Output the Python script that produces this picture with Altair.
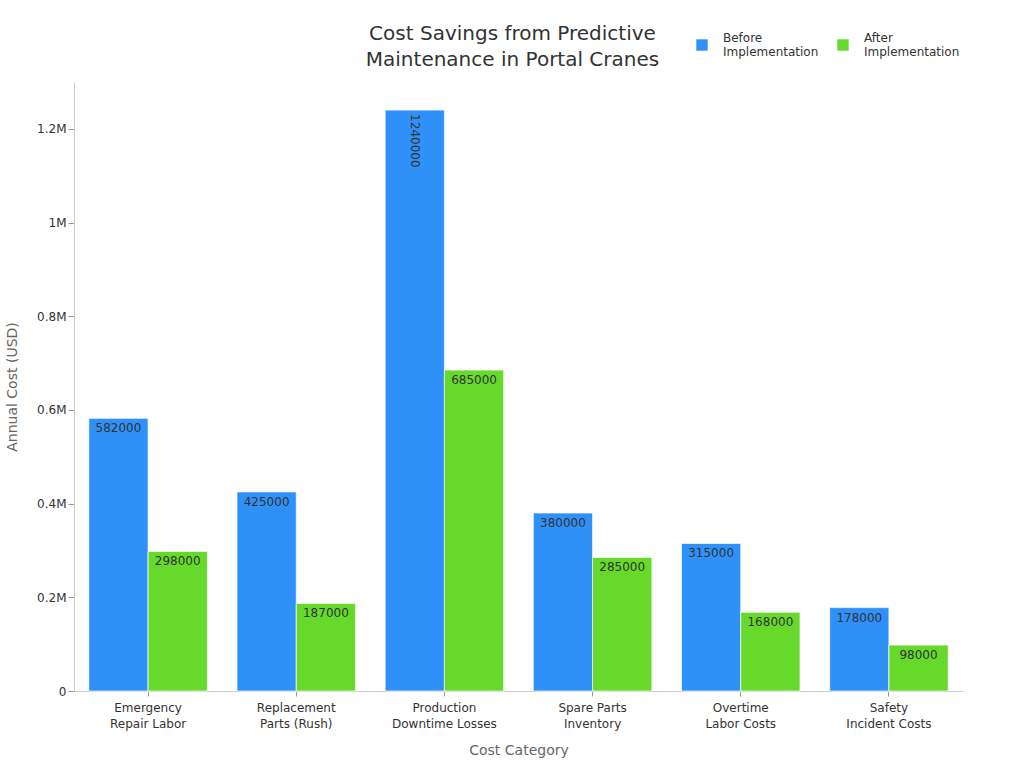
import altair as alt
import pandas as pd

# Cost categories (line breaks mark where the axis labels wrap)
categories = [
    "Emergency\nRepair Labor",
    "Replacement\nParts (Rush)",
    "Production\nDowntime Losses",
    "Spare Parts\nInventory",
    "Overtime\nLabor Costs",
    "Safety\nIncident Costs",
]
series = ["Before Implementation", "After Implementation"]
before_costs = [582000, 425000, 1240000, 380000, 315000, 178000]
after_costs = [298000, 187000, 685000, 285000, 168000, 98000]

rows = []
for cat, b, a in zip(categories, before_costs, after_costs):
    rows.append({"category": cat, "period": series[0], "cost": b})
    rows.append({"category": cat, "period": series[1], "cost": a})
df = pd.DataFrame(rows)

FONT = "DejaVu Sans"
colors = ["#2F91F8", "#66D92A"]

x_enc = alt.X(
    "category:N",
    sort=categories,
    scale=alt.Scale(paddingInner=0.2, paddingOuter=0.1),
    axis=alt.Axis(
        title="Cost Category",
        labelAngle=0,
        labelExpr="split(datum.label, '\\n')",
        labelFontSize=12,
        labelColor="#333333",
        labelLineHeight=16,
        labelPadding=6,
        titleFontSize=14,
        titleFontWeight="normal",
        titleColor="#666666",
        titlePadding=14,
        domainColor="#cccccc",
        tickColor="#999999",
        tickSize=5,
    ),
)
y_enc = alt.Y(
    "cost:Q",
    scale=alt.Scale(domain=[0, 1300000], nice=False),
    axis=alt.Axis(
        title="Annual Cost (USD)",
        values=[0, 200000, 400000, 600000, 800000, 1000000, 1200000],
        labelExpr="datum.value == 0 ? '0' : format(datum.value / 1000000, '~g') + 'M'",
        labelFontSize=12,
        labelColor="#333333",
        titleFontSize=14,
        titleFontWeight="normal",
        titleColor="#666666",
        titlePadding=17,
        grid=False,
        domainColor="#cccccc",
        tickColor="#999999",
        tickSize=6,
    ),
)
xoff = alt.XOffset("period:N", sort=series, scale=alt.Scale(paddingInner=0, paddingOuter=0))

base = alt.Chart(df).encode(x=x_enc, xOffset=xoff, y=y_enc)

bars = base.mark_bar(stroke="white", strokeWidth=1, strokeOpacity=0.7).encode(
    color=alt.Color(
        "period:N",
        sort=series,
        scale=alt.Scale(domain=series, range=colors),
        legend=alt.Legend(
            title=None,
            orient="none",
            legendX=622,
            legendY=-43,
            direction="horizontal",
            columns=2,
            symbolType="square",
            symbolSize=130,
            symbolStrokeWidth=0,
            labelExpr="split(datum.label, ' ')",
            labelBaseline="bottom",
            labelFontSize=12,
            labelColor="#333333",
            columnPadding=18,
            labelOffset=15,
        ),
    )
)

labels_flat = base.mark_text(
    baseline="top", align="center", dy=5, fontSize=12, color="#333333", font=FONT
).encode(text="cost:Q").transform_filter(alt.datum.cost < 1000000)

labels_rot = base.mark_text(
    baseline="middle", align="left", angle=90, dx=4, fontSize=12, color="#333333", font=FONT
).encode(text="cost:Q").transform_filter(alt.datum.cost >= 1000000)

chart = (
    alt.layer(bars, labels_flat, labels_rot)
    .properties(
        width=889,
        height=609,
        title=alt.TitleParams(
            text=["Cost Savings from Predictive", "Maintenance in Portal Cranes"],
            fontSize=20,
            fontWeight="normal",
            color="#333333",
            anchor="middle",
            dx=-6,
            offset=-31,
            lineHeight=26,
        ),
        autosize=alt.AutoSizeParams(type="none"),
        padding={"left": 74, "top": 82, "right": 61, "bottom": 77},
    )
    .configure(font=FONT)
    .configure_view(stroke=None)
    .configure_legend(labelFont=FONT)
)

chart.save("out.html", embed_options={"renderer": "svg", "actions": False})
